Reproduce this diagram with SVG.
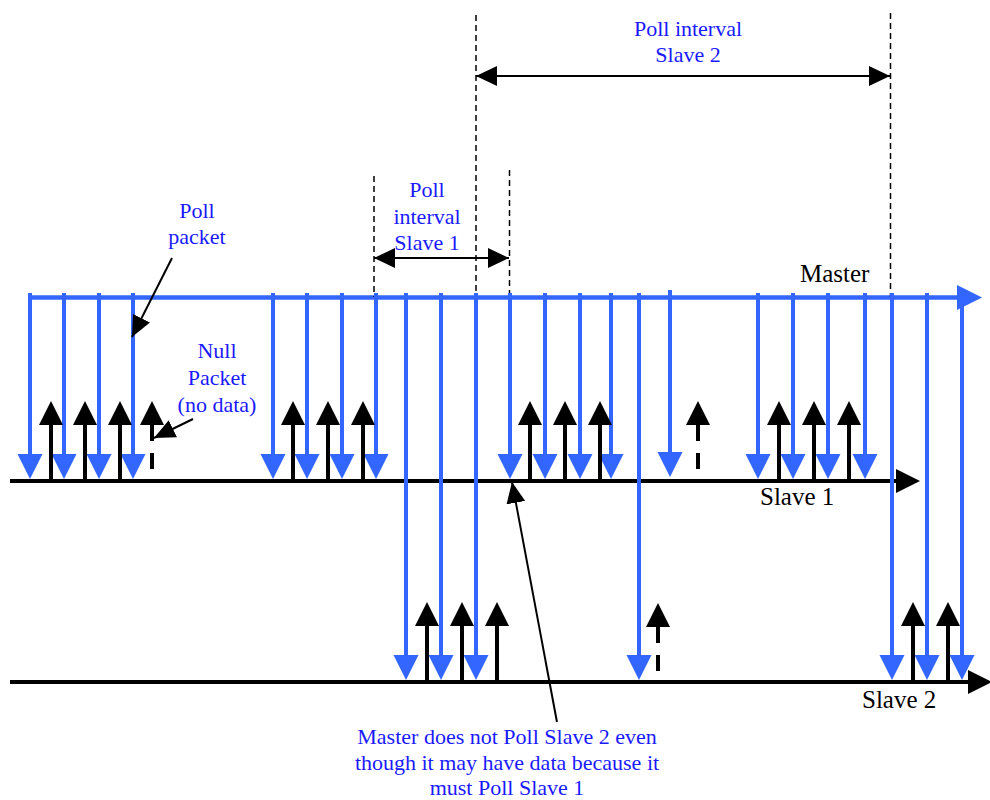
<svg xmlns="http://www.w3.org/2000/svg" xmlns:xlink="http://www.w3.org/1999/xlink" width="990" height="800" viewBox="0 0 990 800">
<style>
.b{stroke:#3366FF;stroke-width:4;fill:none}
.k{stroke:#000;stroke-width:4;fill:none}
.kd{stroke:#000;stroke-width:4;fill:none;stroke-dasharray:16 12}
.axis{stroke:#000;stroke-width:4;fill:none}
.maxis{stroke:#3366FF;stroke-width:4.5;fill:none}
.dash{stroke:#000;stroke-width:1.5;fill:none;stroke-dasharray:6 4}
.dim{stroke:#000;stroke-width:2;fill:none}
.ptr{stroke:#000;stroke-width:2;fill:none}
text{font-family:'Liberation Serif','DejaVu Serif','Times New Roman',serif}
.bt{font-size:22px;fill:#1a1aff;text-anchor:middle}
.lt{font-size:25px;fill:#000}
</style>
<defs>
<polygon id="bh" points="-12.5,-25 12.5,-25 0,0" fill="#3366FF"/>
<polygon id="kh" points="-12,24 12,24 0,0" fill="#000"/>
<marker id="dimhead" markerUnits="userSpaceOnUse" markerWidth="22" markerHeight="22" refX="21" refY="10" orient="auto-start-reverse" viewBox="0 0 22 20">
<polygon points="0,0 21,10 0,20" fill="#000"/>
</marker>
<marker id="ptrhead" markerUnits="userSpaceOnUse" markerWidth="22" markerHeight="20" refX="21" refY="9.5" orient="auto" viewBox="0 0 22 19">
<polygon points="0,0 21,9.5 0,19" fill="#000"/>
</marker>
</defs>

<g id="timelines">
<line class="maxis" x1="28" y1="297.5" x2="958" y2="297.5"/>
<polygon points="957,285 982,297.5 957,310" fill="#3366FF"/>
<line class="axis" x1="10" y1="481" x2="897" y2="481"/>
<polygon points="896,469 920,481 896,493" fill="#000"/>
<line class="axis" x1="10" y1="682" x2="969" y2="682"/>
<polygon points="968,670 992,682 968,694" fill="#000"/>
</g>

<g id="interval-markers">
<line class="dash" x1="374" y1="176" x2="374" y2="297"/>
<line class="dash" x1="476" y1="15" x2="476" y2="297"/>
<line class="dash" x1="509.5" y1="170" x2="509.5" y2="297"/>
<line class="dash" x1="890.5" y1="13" x2="890.5" y2="297"/>
<line class="dim" x1="476" y1="76" x2="890" y2="76" marker-start="url(#dimhead)" marker-end="url(#dimhead)"/>
<line class="dim" x1="374" y1="258" x2="509" y2="258" marker-start="url(#dimhead)" marker-end="url(#dimhead)"/>
</g>

<g id="master-to-slave1">
<line class="b" x1="30" y1="293" x2="30" y2="456"/><use xlink:href="#bh" x="30" y="479"/>
<line class="b" x1="64" y1="293" x2="64" y2="456"/><use xlink:href="#bh" x="64" y="479"/>
<line class="b" x1="99" y1="293" x2="99" y2="456"/><use xlink:href="#bh" x="99" y="479"/>
<line class="b" x1="133" y1="293" x2="133" y2="456"/><use xlink:href="#bh" x="133" y="479"/>
<line class="b" x1="273" y1="293" x2="273" y2="456"/><use xlink:href="#bh" x="273" y="479"/>
<line class="b" x1="307" y1="293" x2="307" y2="456"/><use xlink:href="#bh" x="307" y="479"/>
<line class="b" x1="342" y1="293" x2="342" y2="456"/><use xlink:href="#bh" x="342" y="479"/>
<line class="b" x1="376" y1="293" x2="376" y2="456"/><use xlink:href="#bh" x="376" y="479"/>
<line class="b" x1="510" y1="293" x2="510" y2="456"/><use xlink:href="#bh" x="510" y="479"/>
<line class="b" x1="545" y1="293" x2="545" y2="456"/><use xlink:href="#bh" x="545" y="479"/>
<line class="b" x1="580" y1="293" x2="580" y2="456"/><use xlink:href="#bh" x="580" y="479"/>
<line class="b" x1="611" y1="293" x2="611" y2="456"/><use xlink:href="#bh" x="611" y="479"/>
<line class="b" x1="670" y1="290" x2="670" y2="454"/><use xlink:href="#bh" x="670" y="477"/>
<line class="b" x1="758" y1="293" x2="758" y2="456"/><use xlink:href="#bh" x="758" y="479"/>
<line class="b" x1="793" y1="293" x2="793" y2="456"/><use xlink:href="#bh" x="793" y="479"/>
<line class="b" x1="828" y1="293" x2="828" y2="456"/><use xlink:href="#bh" x="828" y="479"/>
<line class="b" x1="865" y1="293" x2="865" y2="456"/><use xlink:href="#bh" x="865" y="479"/>
</g>

<g id="slave1-responses">
<line class="k" x1="51" y1="481" x2="51" y2="423"/><use xlink:href="#kh" x="51" y="401"/>
<line class="k" x1="85" y1="481" x2="85" y2="423"/><use xlink:href="#kh" x="85" y="401"/>
<line class="k" x1="120" y1="481" x2="120" y2="423"/><use xlink:href="#kh" x="120" y="401"/>
<line class="kd" x1="152" y1="425" x2="152" y2="481"/><use xlink:href="#kh" x="152" y="401"/>
<line class="k" x1="293" y1="481" x2="293" y2="423"/><use xlink:href="#kh" x="293" y="401"/>
<line class="k" x1="328" y1="481" x2="328" y2="423"/><use xlink:href="#kh" x="328" y="401"/>
<line class="k" x1="363" y1="481" x2="363" y2="423"/><use xlink:href="#kh" x="363" y="401"/>
<line class="k" x1="530" y1="481" x2="530" y2="423"/><use xlink:href="#kh" x="530" y="401"/>
<line class="k" x1="565" y1="481" x2="565" y2="423"/><use xlink:href="#kh" x="565" y="401"/>
<line class="k" x1="600" y1="481" x2="600" y2="423"/><use xlink:href="#kh" x="600" y="401"/>
<line class="kd" x1="698" y1="425" x2="698" y2="481"/><use xlink:href="#kh" x="698" y="401"/>
<line class="k" x1="779" y1="481" x2="779" y2="423"/><use xlink:href="#kh" x="779" y="401"/>
<line class="k" x1="814" y1="481" x2="814" y2="423"/><use xlink:href="#kh" x="814" y="401"/>
<line class="k" x1="849" y1="481" x2="849" y2="423"/><use xlink:href="#kh" x="849" y="401"/>
</g>

<g id="master-to-slave2">
<line class="b" x1="406" y1="293" x2="406" y2="657"/><use xlink:href="#bh" x="406" y="680"/>
<line class="b" x1="441" y1="293" x2="441" y2="657"/><use xlink:href="#bh" x="441" y="680"/>
<line class="b" x1="476" y1="293" x2="476" y2="657"/><use xlink:href="#bh" x="476" y="680"/>
<line class="b" x1="639" y1="293" x2="639" y2="657"/><use xlink:href="#bh" x="639" y="680"/>
<line class="b" x1="892" y1="293" x2="892" y2="657"/><use xlink:href="#bh" x="892" y="680"/>
<line class="b" x1="927" y1="293" x2="927" y2="657"/><use xlink:href="#bh" x="927" y="680"/>
<line class="b" x1="962" y1="293" x2="962" y2="657"/><use xlink:href="#bh" x="962" y="680"/>
</g>

<g id="slave2-responses">
<line class="k" x1="427" y1="682" x2="427" y2="624"/><use xlink:href="#kh" x="427" y="602"/>
<line class="k" x1="462" y1="682" x2="462" y2="624"/><use xlink:href="#kh" x="462" y="602"/>
<line class="k" x1="497" y1="682" x2="497" y2="624"/><use xlink:href="#kh" x="497" y="602"/>
<line class="kd" x1="658" y1="627" x2="658" y2="682"/><use xlink:href="#kh" x="658" y="603"/>
<line class="k" x1="913" y1="682" x2="913" y2="624"/><use xlink:href="#kh" x="913" y="602"/>
<line class="k" x1="948" y1="682" x2="948" y2="624"/><use xlink:href="#kh" x="948" y="602"/>
</g>

<g id="pointers">
<line class="ptr" x1="172" y1="258" x2="132" y2="337" marker-end="url(#ptrhead)"/>
<line class="ptr" x1="193" y1="419" x2="154" y2="438" marker-end="url(#ptrhead)"/>
<line class="ptr" x1="557" y1="722" x2="512" y2="482" marker-end="url(#ptrhead)"/>
</g>

<g id="labels">
<text class="lt" x="800" y="282">Master</text>
<text class="lt" x="760" y="505">Slave 1</text>
<text class="lt" x="862" y="708">Slave 2</text>
<text class="bt" x="688" y="36">Poll interval</text>
<text class="bt" x="688" y="62">Slave 2</text>
<text class="bt" x="427" y="197">Poll</text>
<text class="bt" x="427" y="224">interval</text>
<text class="bt" x="427" y="250">Slave 1</text>
<text class="bt" x="197" y="218">Poll</text>
<text class="bt" x="197" y="244">packet</text>
<text class="bt" x="217" y="358">Null</text>
<text class="bt" x="217" y="385">Packet</text>
<text class="bt" x="217" y="412">(no data)</text>
<text class="bt" x="507" y="744">Master does not Poll Slave 2 even</text>
<text class="bt" x="507" y="770">though it may have data because it</text>
<text class="bt" x="507" y="795">must Poll Slave 1</text>
</g>
</svg>
